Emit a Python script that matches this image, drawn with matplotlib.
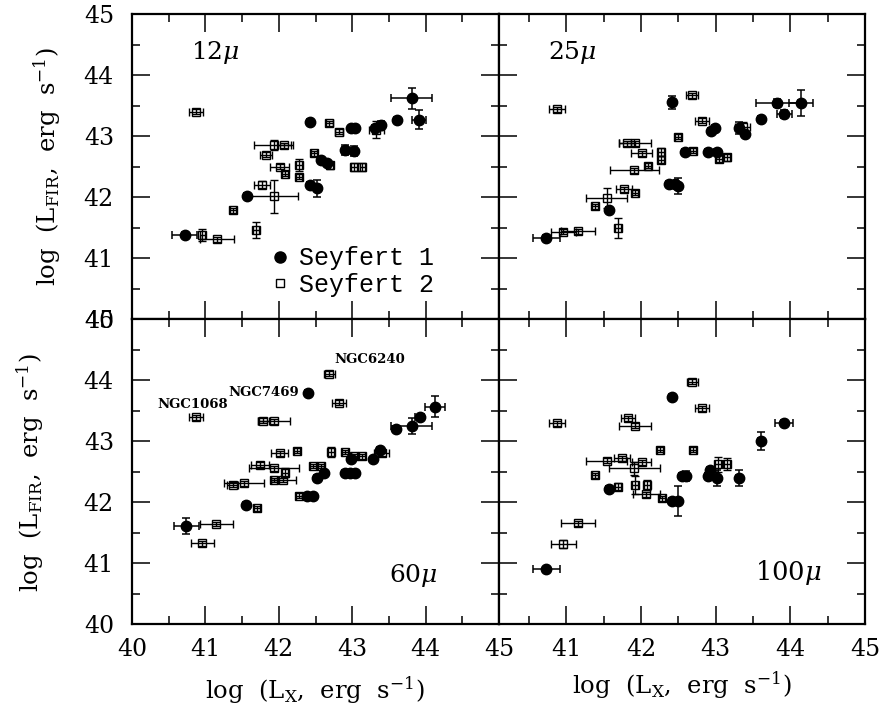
import matplotlib
matplotlib.use("Agg")
import matplotlib.pyplot as plt
from matplotlib.lines import Line2D

plt.rcParams['font.family'] = ['DejaVu Serif']
plt.rcParams['mathtext.fontset'] = 'dejavuserif'

# ---- 12 micron ----
s1_12_x = [42.42, 42.99, 43.04, 43.31, 43.39, 43.61, 43.81, 43.91, 42.90, 43.02, 42.58, 42.65, 42.43, 42.52, 41.56, 40.72]
s1_12_y = [43.23, 43.13, 43.13, 43.13, 43.18, 43.26, 43.62, 43.27, 42.77, 42.76, 42.60, 42.55, 42.20, 42.14, 42.02, 41.38]
s1_12_xe = [0.04, 0.04, 0.04, 0.04, 0.04, 0.04, 0.28, 0.09, 0.04, 0.04, 0.04, 0.04, 0.04, 0.04, 0.04, 0.17]
s1_12_ye = [0.04, 0.04, 0.04, 0.04, 0.06, 0.04, 0.17, 0.15, 0.08, 0.08, 0.04, 0.04, 0.04, 0.14, 0.04, 0.04]
s2_12_x = [40.87, 42.69, 42.82, 43.33, 41.93, 42.07, 41.83, 42.48, 42.70, 42.28, 42.01, 42.08, 42.28, 43.02, 43.14, 41.77, 41.93, 41.38, 41.69, 40.96, 41.16]
s2_12_y = [43.40, 43.21, 43.07, 43.10, 42.85, 42.85, 42.69, 42.72, 42.52, 42.52, 42.50, 42.38, 42.33, 42.49, 42.49, 42.20, 42.01, 41.78, 41.46, 41.38, 41.31]
s2_12_xe = [0.10, 0.05, 0.05, 0.10, 0.27, 0.10, 0.08, 0.04, 0.04, 0.04, 0.13, 0.04, 0.04, 0.04, 0.04, 0.11, 0.33, 0.04, 0.04, 0.04, 0.23]
s2_12_ye = [0.04, 0.04, 0.04, 0.14, 0.08, 0.04, 0.04, 0.04, 0.06, 0.10, 0.04, 0.04, 0.04, 0.06, 0.06, 0.06, 0.27, 0.04, 0.13, 0.10, 0.04]

# ---- 25 micron ----
s1_25_x = [42.42, 43.82, 44.14, 43.92, 43.61, 42.99, 42.94, 43.31, 43.40, 42.59, 42.90, 43.02, 42.38, 42.45, 42.50, 41.57, 40.73]
s1_25_y = [43.55, 43.54, 43.54, 43.36, 43.28, 43.13, 43.09, 43.13, 43.04, 42.74, 42.73, 42.73, 42.21, 42.21, 42.18, 41.79, 41.33]
s1_25_xe = [0.04, 0.28, 0.16, 0.10, 0.04, 0.04, 0.04, 0.04, 0.04, 0.04, 0.04, 0.04, 0.04, 0.04, 0.04, 0.04, 0.18]
s1_25_ye = [0.10, 0.06, 0.21, 0.06, 0.04, 0.04, 0.04, 0.10, 0.04, 0.04, 0.04, 0.04, 0.04, 0.04, 0.13, 0.04, 0.04]
s2_25_x = [40.88, 42.69, 42.82, 43.36, 42.49, 41.81, 41.92, 42.01, 42.27, 42.27, 42.70, 43.04, 43.15, 42.09, 41.91, 41.77, 41.92, 41.54, 41.38, 41.69, 40.96, 41.16]
s2_25_y = [43.44, 43.67, 43.25, 43.15, 42.99, 42.88, 42.88, 42.72, 42.74, 42.61, 42.76, 42.63, 42.65, 42.51, 42.44, 42.13, 42.07, 41.98, 41.85, 41.49, 41.43, 41.44]
s2_25_xe = [0.11, 0.08, 0.09, 0.10, 0.04, 0.10, 0.22, 0.14, 0.04, 0.04, 0.04, 0.04, 0.04, 0.04, 0.33, 0.11, 0.04, 0.28, 0.04, 0.04, 0.17, 0.23]
s2_25_ye = [0.04, 0.04, 0.04, 0.08, 0.04, 0.04, 0.04, 0.04, 0.06, 0.06, 0.04, 0.06, 0.06, 0.04, 0.04, 0.04, 0.04, 0.16, 0.04, 0.17, 0.04, 0.04]

# ---- 60 micron ----
s1_60_x = [42.40, 44.13, 43.92, 43.81, 43.60, 42.99, 43.29, 43.38, 42.61, 42.52, 42.90, 42.97, 43.04, 42.38, 42.47, 41.55, 40.74]
s1_60_y = [43.79, 43.56, 43.39, 43.25, 43.20, 42.70, 42.70, 42.85, 42.47, 42.39, 42.47, 42.47, 42.47, 42.10, 42.10, 41.95, 41.60]
s1_60_xe = [0.04, 0.14, 0.06, 0.28, 0.04, 0.04, 0.04, 0.04, 0.04, 0.04, 0.04, 0.04, 0.04, 0.04, 0.04, 0.04, 0.17]
s1_60_ye = [0.04, 0.17, 0.04, 0.13, 0.04, 0.04, 0.04, 0.04, 0.04, 0.04, 0.04, 0.04, 0.04, 0.04, 0.04, 0.04, 0.13]
s2_60_x = [40.87, 42.69, 42.82, 41.79, 41.93, 42.01, 42.25, 42.71, 42.90, 43.02, 43.13, 43.40, 41.74, 41.93, 42.47, 42.58, 42.08, 41.93, 42.06, 41.37, 41.53, 42.27, 41.70, 41.15, 40.96]
s2_60_y = [43.39, 44.10, 43.63, 43.33, 43.32, 42.80, 42.84, 42.82, 42.82, 42.75, 42.75, 42.80, 42.61, 42.55, 42.59, 42.59, 42.48, 42.36, 42.36, 42.28, 42.31, 42.10, 41.90, 41.64, 41.32]
s2_60_xe = [0.10, 0.07, 0.10, 0.07, 0.22, 0.12, 0.04, 0.04, 0.04, 0.04, 0.04, 0.10, 0.12, 0.34, 0.04, 0.04, 0.04, 0.04, 0.17, 0.07, 0.27, 0.04, 0.04, 0.23, 0.16]
s2_60_ye = [0.04, 0.04, 0.04, 0.04, 0.04, 0.04, 0.04, 0.08, 0.04, 0.04, 0.04, 0.04, 0.04, 0.04, 0.04, 0.04, 0.07, 0.04, 0.04, 0.04, 0.04, 0.04, 0.04, 0.04, 0.04]

# ---- 100 micron ----
s1_100_x = [42.42, 43.92, 43.61, 42.55, 42.60, 42.90, 43.02, 42.93, 43.31, 41.57, 42.41, 42.50, 40.73]
s1_100_y = [43.72, 43.30, 43.00, 42.43, 42.43, 42.43, 42.40, 42.52, 42.39, 42.22, 42.02, 42.02, 40.90]
s1_100_xe = [0.04, 0.12, 0.04, 0.04, 0.04, 0.04, 0.04, 0.04, 0.04, 0.04, 0.04, 0.04, 0.18]
s1_100_ye = [0.04, 0.04, 0.15, 0.04, 0.08, 0.04, 0.13, 0.04, 0.13, 0.04, 0.04, 0.25, 0.04]
s2_100_x = [42.69, 42.82, 40.88, 41.83, 41.92, 42.26, 42.70, 41.54, 41.75, 42.01, 41.91, 41.38, 43.03, 43.15, 41.69, 41.92, 42.08, 42.07, 42.28, 41.16, 40.96]
s2_100_y = [43.97, 43.54, 43.29, 43.37, 43.25, 42.86, 42.86, 42.68, 42.72, 42.65, 42.55, 42.44, 42.62, 42.62, 42.25, 42.28, 42.28, 42.13, 42.06, 41.65, 41.31]
s2_100_xe = [0.07, 0.09, 0.11, 0.09, 0.22, 0.04, 0.04, 0.28, 0.11, 0.13, 0.34, 0.04, 0.04, 0.04, 0.04, 0.04, 0.04, 0.18, 0.04, 0.23, 0.17]
s2_100_ye = [0.04, 0.04, 0.04, 0.04, 0.04, 0.04, 0.04, 0.04, 0.04, 0.04, 0.10, 0.04, 0.12, 0.10, 0.06, 0.15, 0.08, 0.04, 0.04, 0.04, 0.06]

# named sources in the 60 micron panel
ngc_names = ["NGC1068", "NGC7469", "NGC6240"]
ngc_x = [40.87, 42.40, 42.69]
ngc_y = [43.39, 43.79, 44.10]

band_labels = [r"12$\mu$", r"25$\mu$", r"60$\mu$", r"100$\mu$"]
left_ticks = [40, 41, 42, 43, 44, 45]
right_ticks = [41, 42, 43, 44, 45]

xlabel = r"log  (L$_{\rm X}$,  erg  s$^{-1}$)"
ylabel = r"log  (L$_{\rm FIR}$,  erg  s$^{-1}$)"


def draw_series(ax, x, y, xe, ye, sy1):
    if sy1:
        ax.errorbar(x, y, xerr=xe, yerr=ye, fmt='o', color='black', ms=7.5,
                    elinewidth=1.1, capsize=3, capthick=1.1, zorder=3)
    else:
        ax.errorbar(x, y, xerr=xe, yerr=ye, fmt='s', color='black', ms=6,
                    mfc='none', mec='black', mew=1.0,
                    elinewidth=1.0, capsize=3, capthick=1.0, zorder=2)


def style_axes(ax, xlow, xticks, show_x, show_y):
    ax.set_xlim(xlow, 45)
    ax.set_ylim(40, 45)
    ax.set_xticks(xticks)
    ax.set_yticks(left_ticks)
    ax.set_xticks([t + 0.5 for t in left_ticks[:-1]], minor=True)
    ax.set_yticks([t + 0.5 for t in left_ticks[:-1]], minor=True)
    ax.tick_params(which='both', direction='in', top=True, right=True,
                   labelsize=17, width=1.1)
    ax.tick_params(which='major', length=13)
    ax.tick_params(which='minor', length=6)
    ax.tick_params(axis='y', pad=13)
    ax.tick_params(axis='x', pad=10)
    if not show_x:
        ax.tick_params(axis='x', labelbottom=False)
    if not show_y:
        ax.tick_params(axis='y', labelleft=False)
    for sp in ax.spines.values():
        sp.set_linewidth(1.6)


fig = plt.figure(figsize=(8.82, 7.09), dpi=100)

L, W = 132 / 882, 367 / 882
R, WR = 499 / 882, 366 / 882
B_top, B_bot, H = 1 - 319 / 709, 1 - 624 / 709, 305 / 709

ax12 = fig.add_axes([L, B_top, W, H])
ax25 = fig.add_axes([R, B_top, WR, H])
ax60 = fig.add_axes([L, B_bot, W, H])
ax100 = fig.add_axes([R, B_bot, WR, H])

draw_series(ax12, s2_12_x, s2_12_y, s2_12_xe, s2_12_ye, False)
draw_series(ax12, s1_12_x, s1_12_y, s1_12_xe, s1_12_ye, True)
draw_series(ax25, s2_25_x, s2_25_y, s2_25_xe, s2_25_ye, False)
draw_series(ax25, s1_25_x, s1_25_y, s1_25_xe, s1_25_ye, True)
draw_series(ax60, s2_60_x, s2_60_y, s2_60_xe, s2_60_ye, False)
draw_series(ax60, s1_60_x, s1_60_y, s1_60_xe, s1_60_ye, True)
draw_series(ax100, s2_100_x, s2_100_y, s2_100_xe, s2_100_ye, False)
draw_series(ax100, s1_100_x, s1_100_y, s1_100_xe, s1_100_ye, True)

style_axes(ax12, 40, left_ticks, False, True)
style_axes(ax25, 40.1, right_ticks, False, False)
style_axes(ax60, 40, left_ticks, True, True)
style_axes(ax100, 40.1, right_ticks, True, False)

# band labels
ax12.text(0.16, 0.875, band_labels[0], transform=ax12.transAxes, fontsize=18, va='center')
ax25.text(0.135, 0.875, band_labels[1], transform=ax25.transAxes, fontsize=18, va='center')
ax60.text(0.70, 0.16, band_labels[2], transform=ax60.transAxes, fontsize=18, va='center')
ax100.text(0.70, 0.17, band_labels[3], transform=ax100.transAxes, fontsize=18.5, va='center')

# NGC labels
ax60.text(ngc_x[0] - 0.05, ngc_y[0] + 0.1, ngc_names[0], fontsize=9.5,
          fontweight='bold', ha='center', va='bottom')
ax60.text(ngc_x[1] - 0.12, ngc_y[1], ngc_names[1], fontsize=9.5,
          fontweight='bold', ha='right', va='center')
ax60.text(ngc_x[2] + 0.07, ngc_y[2] + 0.13, ngc_names[2], fontsize=9.5,
          fontweight='bold', ha='left', va='bottom')

# legend in the 12 micron panel
handles = [Line2D([], [], marker='o', ls='none', color='black', ms=8),
           Line2D([], [], marker='s', ls='none', mfc='white', mec='black', ms=5.5)]
ax12.legend(handles, ["Seyfert 1", "Seyfert 2"], loc='lower left',
            bbox_to_anchor=(0.335, 0.015), frameon=False,
            prop={'family': 'Liberation Mono', 'size': 18},
            handlelength=0.6, handletextpad=0.45, labelspacing=0.1,
            borderpad=0.2)

# axis labels
fig.text(47 / 882, 1 - 167 / 709, ylabel, rotation=90, ha='center', va='center', fontsize=17.5)
fig.text(30 / 882, 1 - 473 / 709, ylabel, rotation=90, ha='center', va='center', fontsize=17.5)
fig.text(315 / 882, 1 - 690 / 709, xlabel, ha='center', va='center', fontsize=17.5)
fig.text(682 / 882, 1 - 685 / 709, xlabel, ha='center', va='center', fontsize=17.5)

fig.savefig("out.png", dpi=100)
